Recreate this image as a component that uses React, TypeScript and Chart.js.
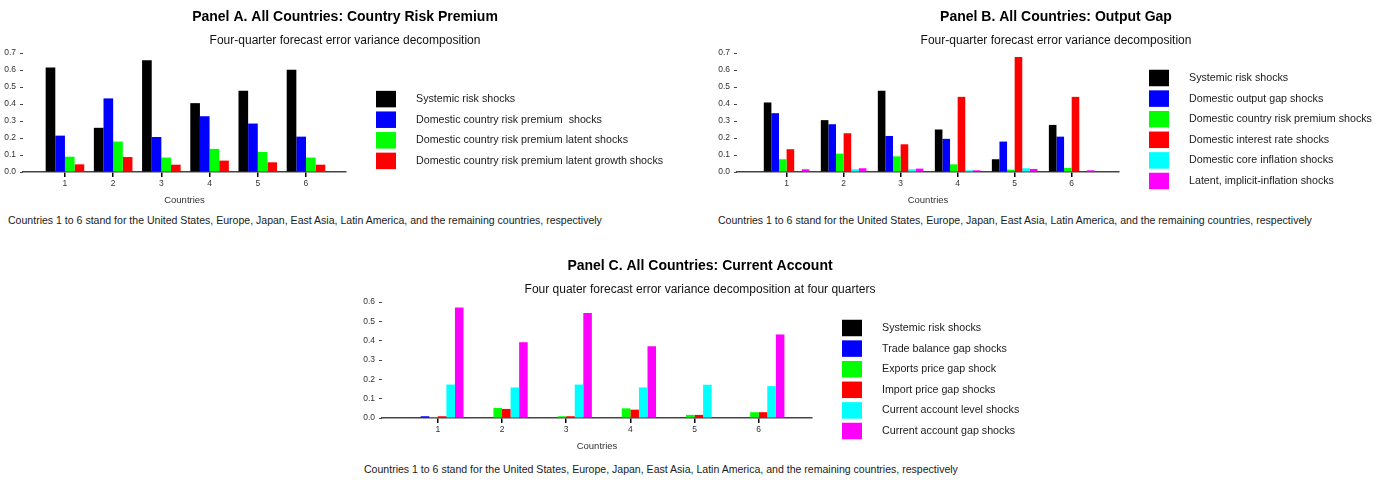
import React, { useEffect, useRef } from 'react';
import { Chart, registerables } from 'chart.js';

Chart.register(...registerables);

const FONT = '"Liberation Sans", Arial, Helvetica, sans-serif';

// ---------- data ----------
const countries = ['1', '2', '3', '4', '5', '6'];
const yTicksAB = [0, 0.1, 0.2, 0.3, 0.4, 0.5, 0.6, 0.7];
const yTicksC = [0, 0.1, 0.2, 0.3, 0.4, 0.5, 0.6];

// Panel A
const aLabels = [
  'Systemic risk shocks',
  'Domestic country risk premium  shocks',
  'Domestic country risk premium latent shocks',
  'Domestic country risk premium latent growth shocks',
];
const aSystemic = [0.615, 0.26, 0.657, 0.405, 0.478, 0.602];
const aDomesticCrp = [0.214, 0.433, 0.206, 0.328, 0.285, 0.208];
const aLatent = [0.09, 0.179, 0.085, 0.136, 0.118, 0.085];
const aLatentGrowth = [0.045, 0.088, 0.043, 0.067, 0.057, 0.043];

// Panel B
const bLabels = [
  'Systemic risk shocks',
  'Domestic output gap shocks',
  'Domestic country risk premium shocks',
  'Domestic interest rate shocks',
  'Domestic core inflation shocks',
  'Latent, implicit-inflation shocks',
];
const bSystemic = [0.409, 0.305, 0.478, 0.25, 0.075, 0.277];
const bOutputGap = [0.346, 0.281, 0.212, 0.195, 0.179, 0.208];
const bCrp = [0.075, 0.108, 0.092, 0.045, 0.014, 0.024];
const bInterest = [0.134, 0.228, 0.163, 0.442, 0.676, 0.442];
const bCoreInflation = [0, 0.016, 0.016, 0.01, 0.022, 0];
const bLatentInflation = [0.016, 0.022, 0.02, 0.01, 0.018, 0.01];

// Panel C
const cLabels = [
  'Systemic risk shocks',
  'Trade balance gap shocks',
  'Exports price gap shock',
  'Import price gap shocks',
  'Current account level shocks',
  'Current account gap shocks',
];
const cSystemic = [0, 0, 0, 0, 0, 0];
const cTradeBalance = [0.009, 0, 0, 0, 0, 0];
const cExportPrice = [0.005, 0.052, 0.009, 0.05, 0.016, 0.03];
const cImportPrice = [0.009, 0.047, 0.009, 0.043, 0.016, 0.03];
const cCaLevel = [0.173, 0.158, 0.173, 0.158, 0.172, 0.165];
const cCaGap = [0.572, 0.392, 0.543, 0.371, 0, 0.432];

const palette = ['#000000', '#0000ff', '#00ff00', '#ff0000', '#00ffff', '#ff00ff'];

const footnote =
  'Countries 1 to 6 stand for the United States, Europe, Japan, East Asia, Latin America, and the remaining countries, respectively';

// ---------- legend plugin (drawn beside the plot area) ----------
const sideLegend = {
  id: 'sideLegend',
  afterDraw(chart: any, _args: any, opts: any) {
    const { ctx, chartArea } = chart;
    const ds = chart.data.datasets;
    const n = ds.length;
    const x0 = chartArea.right + opts.gapX;
    const cy = (chartArea.top + chartArea.bottom) / 2 + opts.offsetY;
    const y0 = cy - ((n - 1) * opts.rowH) / 2;
    ctx.save();
    ctx.font = `${opts.fontSize}px ${FONT}`;
    ctx.textBaseline = 'middle';
    ctx.textAlign = 'left';
    ds.forEach((d: any, i: number) => {
      const y = y0 + i * opts.rowH;
      ctx.fillStyle = d.backgroundColor;
      ctx.fillRect(x0, y - opts.boxH / 2, opts.boxW, opts.boxH);
      ctx.fillStyle = '#1a1a1a';
      ctx.fillText(d.label, x0 + opts.textX, y);
    });
    ctx.restore();
  },
};

type PanelProps = {
  left: number;
  top: number;
  width: number;
  height: number;
  yWidth: number;
  rightPad: number;
  title: string;
  subtitle: string;
  labels: string[];
  series: number[][];
  yTicks: number[];
  legendOffsetY: number;
};

function Panel(p: PanelProps) {
  const ref = useRef<HTMLCanvasElement | null>(null);
  useEffect(() => {
    if (!ref.current) return;
    const yMax = p.yTicks[p.yTicks.length - 1];
    const chart = new Chart(ref.current, {
      type: 'bar',
      data: {
        datasets: p.series.map((vals, i) => ({
          label: p.labels[i],
          data: vals.map((v, j) => ({ x: Number(countries[j]), y: v })),
          backgroundColor: palette[i],
          borderWidth: 0,
          categoryPercentage: 0.8,
          barPercentage: 1.0,
          xAxisID: 'x',
          yAxisID: 'y',
        })),
      },
      options: {
        responsive: false,
        animation: false,
        layout: { padding: 0 },
        plugins: {
          legend: { display: false },
          tooltip: { enabled: false },
          title: {
            display: true,
            text: p.title,
            color: '#000',
            font: { family: FONT, size: 14, weight: 'bold' },
            padding: { top: 8.4, bottom: 0 },
          },
          subtitle: {
            display: true,
            text: p.subtitle,
            color: '#111',
            font: { family: FONT, size: 12 },
            padding: { top: 7.9, bottom: 5.5 },
          },
          sideLegend: {
            gapX: 30,
            offsetY: p.legendOffsetY,
            rowH: 20.6,
            boxW: 20,
            boxH: 16.5,
            textX: 40,
            fontSize: 10.7,
          },
        } as any,
        scales: {
          x: {
            type: 'linear',
            offset: false,
            min: 0.13,
            max: 6.83,
            afterBuildTicks: (s: any) => {
              s.ticks = countries.map((c) => ({ value: Number(c) }));
            },
            ticks: {
              callback: (v: any) => countries[Number(v) - 1],
              font: { family: FONT, size: 8.5 },
              color: '#333',
              padding: 2,
              maxRotation: 0,
              autoSkip: false,
            },
            grid: {
              display: true,
              offset: false,
              drawOnChartArea: false,
              drawTicks: true,
              tickLength: 5,
              color: '#000',
              lineWidth: 1.5,
            },
            border: { display: true, color: '#444', width: 1.5 },
            title: {
              display: true,
              text: 'Countries',
              color: '#333',
              font: { family: FONT, size: 9.5 },
              padding: { top: 0, bottom: 1.8 },
            },
            afterFit: (s: any) => {
              s.height = 36;
            },
          },
          y: {
            type: 'linear',
            min: 0,
            max: yMax,
            afterBuildTicks: (s: any) => {
              s.ticks = p.yTicks.map((v) => ({ value: v }));
            },
            ticks: {
              callback: (v: any) => Number(v).toFixed(1),
              font: { family: FONT, size: 8.5 },
              color: '#333',
              padding: 4,
            },
            grid: {
              display: true,
              drawOnChartArea: false,
              drawTicks: true,
              tickLength: 3,
              color: '#444',
              lineWidth: 1,
            },
            border: { display: false },
            afterFit: (s: any) => {
              s.width = p.yWidth;
            },
          },
          pad: {
            type: 'linear',
            position: 'right',
            display: true,
            grid: { display: false },
            ticks: { display: false },
            border: { display: false },
            afterFit: (s: any) => {
              s.width = p.rightPad;
            },
          },
        } as any,
      },
      plugins: [sideLegend],
    });
    return () => chart.destroy();
  }, []);
  return (
    <canvas
      ref={ref}
      width={p.width}
      height={p.height}
      style={{ position: 'absolute', left: p.left, top: p.top, width: p.width, height: p.height }}
    />
  );
}

const noteStyle = (left: number, top: number): React.CSSProperties => ({
  position: 'absolute',
  left,
  top,
  fontFamily: FONT,
  fontSize: '10.55px',
  lineHeight: '12px',
  color: '#1a1a1a',
  whiteSpace: 'nowrap',
});

export default function App() {
  return (
    <div
      style={{
        position: 'absolute',
        left: 0,
        top: 0,
        width: 1388,
        height: 480,
        background: '#fff',
        overflow: 'hidden',
      }}
    >
      <Panel
        left={0}
        top={0}
        width={690}
        height={208}
        yWidth={23}
        rightPad={344}
        title="Panel A. All Countries: Country Risk Premium"
        subtitle="Four-quarter forecast error variance decomposition"
        labels={aLabels}
        series={[aSystemic, aDomesticCrp, aLatent, aLatentGrowth]}
        yTicks={yTicksAB}
        legendOffsetY={17.5}
      />
      <Panel
        left={700}
        top={0}
        width={712}
        height={208}
        yWidth={37}
        rightPad={293}
        title="Panel B. All Countries: Output Gap"
        subtitle="Four-quarter forecast error variance decomposition"
        labels={bLabels}
        series={[bSystemic, bOutputGap, bCrp, bInterest, bCoreInflation, bLatentInflation]}
        yTicks={yTicksAB}
        legendOffsetY={17}
      />
      <Panel
        left={350}
        top={249}
        width={700}
        height={205}
        yWidth={32}
        rightPad={238}
        title="Panel C. All Countries: Current Account"
        subtitle="Four quater forecast error variance decomposition at four quarters"
        labels={cLabels}
        series={[cSystemic, cTradeBalance, cExportPrice, cImportPrice, cCaLevel, cCaGap]}
        yTicks={yTicksC}
        legendOffsetY={19.5}
      />
      <div style={noteStyle(8, 214)}>{footnote}</div>
      <div style={noteStyle(718, 214)}>{footnote}</div>
      <div style={noteStyle(364, 463)}>{footnote}</div>
    </div>
  );
}
